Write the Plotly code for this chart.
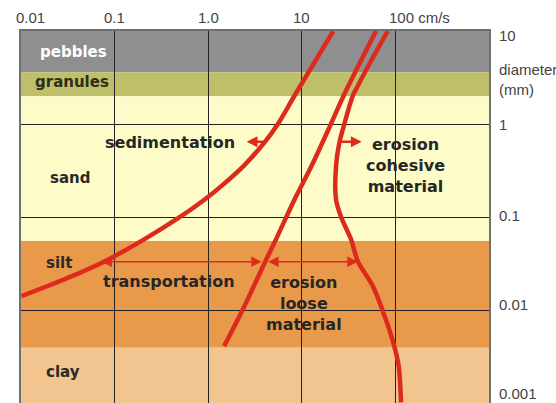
import numpy as np
import plotly.graph_objects as go

# Flow velocity axis (cm/s), drawn along the top
vel_ticks = [0.01, 0.1, 1.0, 10, 100]
vel_labels = ["0.01", "0.1", "1.0", "10", "100 cm/s"]

# Grain diameter axis (mm), drawn along the right
dia_ticks = [10, 1, 0.1, 0.01, 0.001]
dia_labels = ["10", "1", "0.1", "0.01", "0.001"]

# Grain-size classes (mm)
classes = ["pebbles", "granules", "sand", "silt", "clay"]
class_top = [10, 3.6, 2.0, 0.056, 0.004]
class_bottom = [3.6, 2.0, 0.056, 0.004, 0.001]
class_colors = ["#8f8f8f", "#bfbe69", "#fdfbc8", "#e9994a", "#f2c48f"]
class_text = ["#ffffff", "#2e2e1a", "#2a2a2a", "#2a2a2a", "#2a2a2a"]

# Settling (sedimentation) threshold: velocity cm/s against diameter mm
settle_v = [21.7, 12.15, 8.32, 5.53, 4.02, 2.38, 1.38, 0.918, 0.491, 0.207,
            0.0789, 0.0351, 0.0192, 0.0101]
settle_d = [10, 3.79, 2.01, 1.0, 0.644, 0.356, 0.217, 0.156, 0.100, 0.0582,
            0.034, 0.0235, 0.0184, 0.0143]

# Erosion threshold for loose material
loose_v = [62.1, 27.9, 20.5, 12.7, 8.36, 5.30, 4.09, 2.30, 1.48]
loose_d = [10, 2.01, 1.01, 0.356, 0.156, 0.0582, 0.034, 0.0099, 0.00417]

# Erosion threshold for cohesive material
coh_v = [82.8, 48.5, 39.6, 35.0, 28.5, 25.2, 23.2, 23.2, 26.3, 33.6, 39.6,
         57.3, 73.2, 97.3, 108.4, 114.8]
coh_d = [10, 3.79, 2.57, 2.01, 1.01, 0.635, 0.356, 0.156, 0.101, 0.0582,
         0.034, 0.0184, 0.01, 0.00417, 0.00255, 0.00104]

# Process arrows: diameter level, start and end velocity, double-headed?
arrow_d = [0.649, 0.649, 0.0335, 0.0335]
arrow_from = [4.02, 25.4, 0.0698, 4.22]
arrow_to = [2.58, 43.6, 3.73, 39.6]
arrow_double = [False, False, True, True]

zone_text = ["sedimentation", "erosion<br>cohesive<br>material",
             "transportation", "erosion<br>loose<br>material"]

RED = "#dc2a1c"
X_RANGE = [-2, 3]
Y_RANGE = [-2.99, 1]

fig = go.Figure()

for v, d in [(settle_v, settle_d), (loose_v, loose_d), (coh_v, coh_d)]:
    fig.add_trace(go.Scatter(
        x=v, y=d, mode="lines",
        line=dict(color=RED, width=4.5, shape="spline", smoothing=0.9),
        hoverinfo="skip", showlegend=False,
    ))

# Colour bands for the grain-size classes
for top, bot, col in zip(class_top, class_bottom, class_colors):
    fig.add_shape(type="rect", xref="paper", yref="y", x0=0, x1=1,
                  y0=bot, y1=top, fillcolor=col, line_width=0, layer="below")

annotations = []

# Class names
cls_pos = [(-1.444, 0.778), (-1.455, 0.456), (-1.473, -0.580),
           (-1.599, -1.492), (-1.551, -2.656)]
for name, col, (lx, ly) in zip(classes, class_text, cls_pos):
    annotations.append(dict(
        x=lx, y=ly, xref="x", yref="y", text=name, showarrow=False,
        font=dict(family="DejaVu Sans", size=15, color=col, weight="bold"),
    ))

# Zone names
zone_pos = [(-0.411, -0.198), (2.103, -0.438), (-0.419, -1.682), (1.0235, -1.918)]
for txt, (lx, ly) in zip(zone_text, zone_pos):
    annotations.append(dict(
        x=lx, y=ly, xref="x", yref="y", text=txt, showarrow=False,
        font=dict(family="DejaVu Sans", size=16, color="#262626", weight="bold"),
    ))

# Arrows
for d, v0, v1, dbl in zip(arrow_d, arrow_from, arrow_to, arrow_double):
    thick = not dbl
    a = dict(
        x=np.log10(v1), y=np.log10(d), ax=np.log10(v0), ay=np.log10(d),
        xref="x", yref="y", axref="x", ayref="y", text="",
        showarrow=True, arrowhead=2, arrowcolor=RED,
        arrowwidth=2.4 if thick else 1.3,
        arrowsize=0.9 if thick else 1.6,
    )
    if dbl:
        a.update(arrowside="end+start", startarrowhead=2, startarrowsize=1.6)
    annotations.append(a)

tick_font = dict(family="Liberation Sans", size=15, color="#444444")

# Velocity labels along the top
for i, (v, t) in enumerate(zip(vel_ticks, vel_labels)):
    anchor = "left" if i in (0, len(vel_ticks) - 1) else "center"
    shift = {0: -7, len(vel_ticks) - 1: -8}.get(i, 0)
    annotations.append(dict(
        x=np.log10(v), y=1, xref="x", yref="paper", text=t, showarrow=False,
        xanchor=anchor, yanchor="middle", xshift=shift, yshift=14, font=tick_font,
    ))

# Diameter labels along the right
dia_shift = [-4, 0, 2, 6, 10]
for v, t, s in zip(dia_ticks, dia_labels, dia_shift):
    frac = (np.log10(v) - Y_RANGE[0]) / (Y_RANGE[1] - Y_RANGE[0])
    annotations.append(dict(
        x=1, y=frac, xref="paper", yref="paper", text=t, showarrow=False,
        xanchor="left", yanchor="middle", xshift=8, yshift=s, font=tick_font,
    ))

annotations.append(dict(
    x=1, y=0.8696, xref="paper", yref="paper", text="diameter<br>(mm)",
    showarrow=False, xanchor="left", yanchor="middle", align="left",
    xshift=8, font=tick_font,
))

fig.update_layout(
    width=556, height=403,
    margin=dict(l=21, r=67, t=31, b=0),
    paper_bgcolor="white", plot_bgcolor="white",
    annotations=annotations,
    xaxis=dict(type="log", range=X_RANGE, tickvals=vel_ticks[1:],
               showticklabels=False, ticks="", showgrid=True,
               gridcolor="#222222", gridwidth=1, zeroline=False,
               showline=True, linecolor="#707070", linewidth=1.5, mirror=True),
    yaxis=dict(type="log", range=Y_RANGE, tickvals=dia_ticks[1:4],
               showticklabels=False, ticks="", showgrid=True,
               gridcolor="#222222", gridwidth=1, zeroline=False,
               showline=True, linecolor="#707070", linewidth=1.5, mirror=True),
)

fig.write_html("out.html")
